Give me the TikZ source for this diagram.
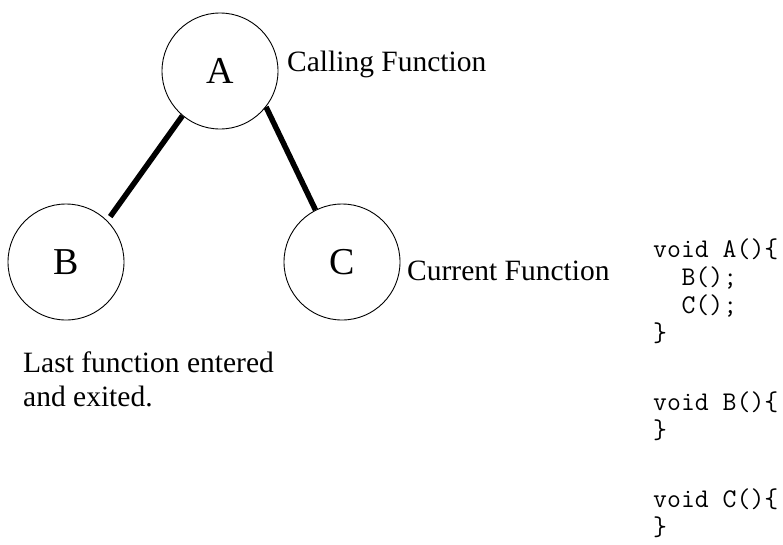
\documentclass[tikz,border=0pt]{standalone}
\usepackage{fontspec}
\setmainfont{Liberation Serif}
\usepackage{tikz}
\usetikzlibrary{calc}

\tikzset{
  fnode/.style={draw,circle,line width=0.9pt,minimum size=116pt,inner sep=0pt,font=\fontsize{38}{42}\selectfont},
  calledge/.style={line width=5.5pt},
  note/.style={anchor=base west,inner sep=0pt,align=left,font=\fontsize{29.5}{34}\selectfont},
}

\begin{document}
\begin{tikzpicture}[x=1pt,y=-1pt]
      \useasboundingbox (0,0) rectangle (783,544);
      % call tree
      \node[fnode] (A) at (220,71) {A};
      \node[fnode] (B) at (66,262) {B};
      \node[fnode] (C) at (342,262) {C};
      \draw[calledge,shorten >=5pt] (A.230) -- (B.45);
      \draw[calledge] (A.322) -- (C.117);
      \node[note] (lblA) at (287,71) {Calling Function};
      \node[note] (lblC) at (407,280) {Current Function};
      % base of a multi-line node is its last line
      \node[note] (lblB) at (23,406) {Last function entered\\and exited.};
      % source listing
      \node[anchor=base west,inner sep=0pt,align=left,font=\ttfamily\fontsize{27}{28}\selectfont] (code) at (653,535)
        {void A()\{\\
         \hspace*{1.05em}B();\\
         \hspace*{1.05em}C();\\
         \}\\[41pt]
         void B()\{\\
         \}\\[41pt]
         void C()\{\\
         \}};
    \end{tikzpicture}
\end{document}
